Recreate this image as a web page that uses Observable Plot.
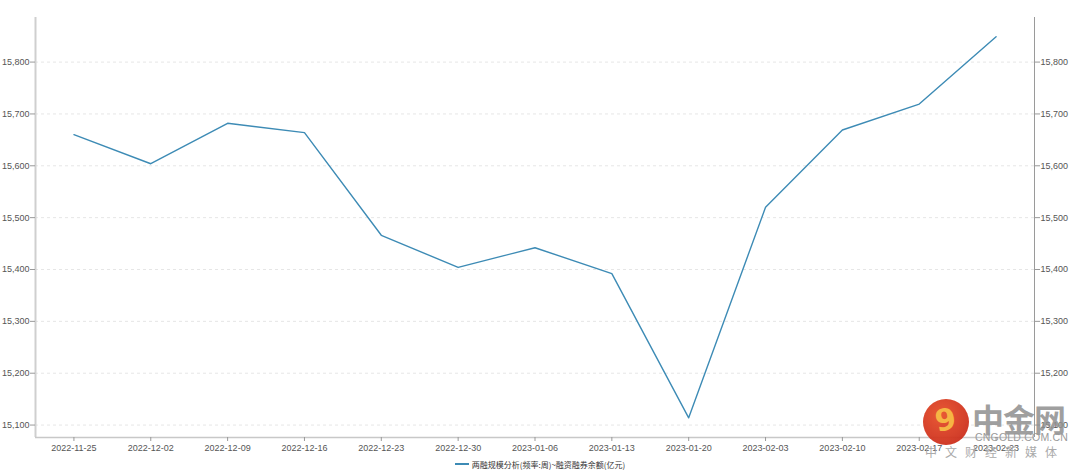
<!DOCTYPE html>
<html><head><meta charset="utf-8">
<script src="https://cdn.jsdelivr.net/npm/d3@7"></script>
<script src="https://cdn.jsdelivr.net/npm/@observablehq/plot@0.6"></script>
<style>
body{margin:0;background:#fff;font-family:"Liberation Sans","Noto Sans CJK SC",sans-serif;}
#wrap{position:relative;width:1080px;height:470px;overflow:hidden;}
#legend{position:absolute;left:0;top:457px;width:1080px;height:14px;display:flex;justify-content:center;align-items:center;font-size:8px;color:#333;font-family:"Noto Sans CJK SC",sans-serif;}
#legend .sw{display:inline-block;width:14px;height:2px;background:#3d8bb5;margin-right:3px;}
#wm{position:absolute;left:0;top:0;width:1080px;height:470px;pointer-events:none;}
#wm .logo{position:absolute;left:923px;top:399px;width:46px;height:46px;border-radius:50%;background:radial-gradient(circle at 40% 35%,#e8502a,#c4261a);opacity:0.95;}
#wm .logo span{position:absolute;left:12px;top:4px;font:bold 30px/34px "DejaVu Sans",sans-serif;color:#f6b23a;transform:rotate(-10deg);}
#wm .big{position:absolute;left:972px;top:395px;font:bold 32px "Noto Sans CJK SC",sans-serif;color:#8f8f8f;opacity:0.85;letter-spacing:-1px;}
#wm .url{position:absolute;left:975px;top:431px;font:10.5px "Liberation Sans",sans-serif;color:#9a9a9a;letter-spacing:0.2px;}
#wm .sub{position:absolute;left:925px;top:443px;font:12px "Noto Sans CJK SC",sans-serif;color:#aaa;letter-spacing:8px;}
</style></head><body>
<div id="wrap"><div id="chart"></div>
<div id="legend"><span class="sw"></span><span id="legtext"></span></div>
<div id="wm"><div class="logo"><span>9</span></div><div class="big">中金网</div><div class="url">CNGOLD.COM.CN</div><div class="sub">中文财经新媒体</div></div>
</div>
<script>
const dates = ["2022-11-25","2022-12-02","2022-12-09","2022-12-16","2022-12-23","2022-12-30","2023-01-06","2023-01-13","2023-01-20","2023-02-03","2023-02-10","2023-02-17","2023-02-23"];
const values = [15660,15604,15682,15664,15466,15404,15442,15392,15114,15520,15669,15719,15849];
const yTicks = [15100,15200,15300,15400,15500,15600,15700,15800];
const seriesName = "两融规模分析(频率:周)~融资融券余额(亿元)";

const data = dates.map((d,i)=>({i, date:d, value:values[i]}));
const xIdx = d3.range(dates.length);
const yMin = 15076, yMax = 15886;

document.getElementById("legtext").textContent = seriesName;

const chart = Plot.plot({
  width:1080, height:455,
  marginLeft:35, marginRight:46, marginTop:17, marginBottom:18,
  style:{fontSize:"9px", color:"#555", fontFamily:"'Liberation Sans',sans-serif", background:"transparent"},
  x:{domain:[-0.5, dates.length-0.5], label:null},
  y:{domain:[yMin,yMax], label:null},
  marks:[
    Plot.gridY(yTicks,{stroke:"#e6e6e6", strokeOpacity:1, strokeDasharray:"3,3"}),
    Plot.ruleX([-0.5],{stroke:"#cfcfcf", strokeWidth:2}),
    Plot.ruleX([dates.length-0.5],{stroke:"#9a9a9a", strokeWidth:1}),
    Plot.ruleY([yMin],{stroke:"#c8c8c8", strokeWidth:1.5}),
    Plot.axisY(yTicks,{anchor:"left", tickFormat:d3.format(","), tickSize:5, tickPadding:1, stroke:"#999", label:null}),
    Plot.axisY(yTicks,{anchor:"right", tickFormat:d3.format(","), tickSize:5, tickPadding:1, stroke:"#999", label:null}),
    Plot.axisX(xIdx,{tickFormat:i=>dates[i], tickSize:4, tickPadding:3, stroke:"#999", label:null}),
    Plot.line(data,{x:"i", y:"value", stroke:"#3d8bb5", strokeWidth:1.4})
  ]
});
document.getElementById("chart").appendChild(chart);
</script>
</body></html>
